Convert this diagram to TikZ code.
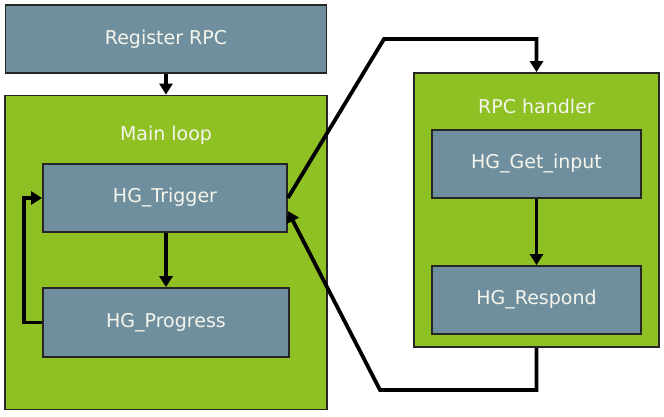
\documentclass[tikz,border=0pt]{standalone}
\usepackage{fontspec}
\setmainfont{DejaVu Sans}
\usetikzlibrary{arrows.meta,calc}
\definecolor{grn}{RGB}{143,192,36}
\definecolor{slate}{RGB}{111,143,158}
\definecolor{txt}{RGB}{245,245,235}
\begin{document}
\begin{tikzpicture}[x=1pt,y=-1pt,
  container/.style={draw=black!85,line width=1.8pt,fill=grn,inner sep=0pt,anchor=center},
  stepbox/.style={draw=black!85,line width=1.8pt,fill=slate,inner sep=0pt,anchor=center,
     text=txt,font=\fontsize{19}{22}\selectfont},
  lbl/.style={text=txt,font=\fontsize{19}{22}\selectfont,inner sep=0pt},
  conn/.style={line width=3.8pt,-{Triangle[length=11pt,width=13pt]}}]
\useasboundingbox[fill=white] (0,0) rectangle (664,417);
% containers
\node[container,minimum width=322pt,minimum height=314pt] (main) at (166,252.5) {};
\node[lbl] (mainlbl) at (166,135) {Main loop};
\node[container,minimum width=245pt,minimum height=274pt] (rpc) at (536.5,210) {};
\node[lbl] (rpclbl) at (536.5,106) {RPC handler};
% boxes
\node[stepbox,minimum width=321pt,minimum height=68pt] (reg) at (166,39) {Register RPC};
\node[stepbox,minimum width=244pt,minimum height=68pt] (trig) at (165,198) {HG\_Trigger};
\node[stepbox,minimum width=246pt,minimum height=69pt] (prog) at (166,322.5) {HG\_Progress};
\node[stepbox,minimum width=209pt,minimum height=68pt] (get) at (536.5,164) {HG\_Get\_input};
\node[stepbox,minimum width=209pt,minimum height=68pt] (resp) at (536.5,300) {HG\_Respond};
% coordinates
\coordinate (loopx) at (24,0);
\coordinate (c1) at (384,39);
\coordinate (c3) at (380,390);
\coordinate (tin) at ($(trig.east)+(0,13)$);
% connectors
\draw[conn] (reg.south) -- (main.north);
\draw[conn] (trig.south -| prog.north) -- (prog.north);
\draw[conn] (get.south) -- (resp.north);
\draw[conn] (prog.west) -- (prog.west -| loopx) -- (trig.west -| loopx) -- (trig.west);
\draw[conn,line join=miter] (trig.east) -- (c1) -- (c1 -| rpc.north) -- (rpc.north);
\draw[conn,line join=miter] (rpc.south) -- (rpc.south |- c3) -- (c3) -- (tin);
\end{tikzpicture}
\end{document}
